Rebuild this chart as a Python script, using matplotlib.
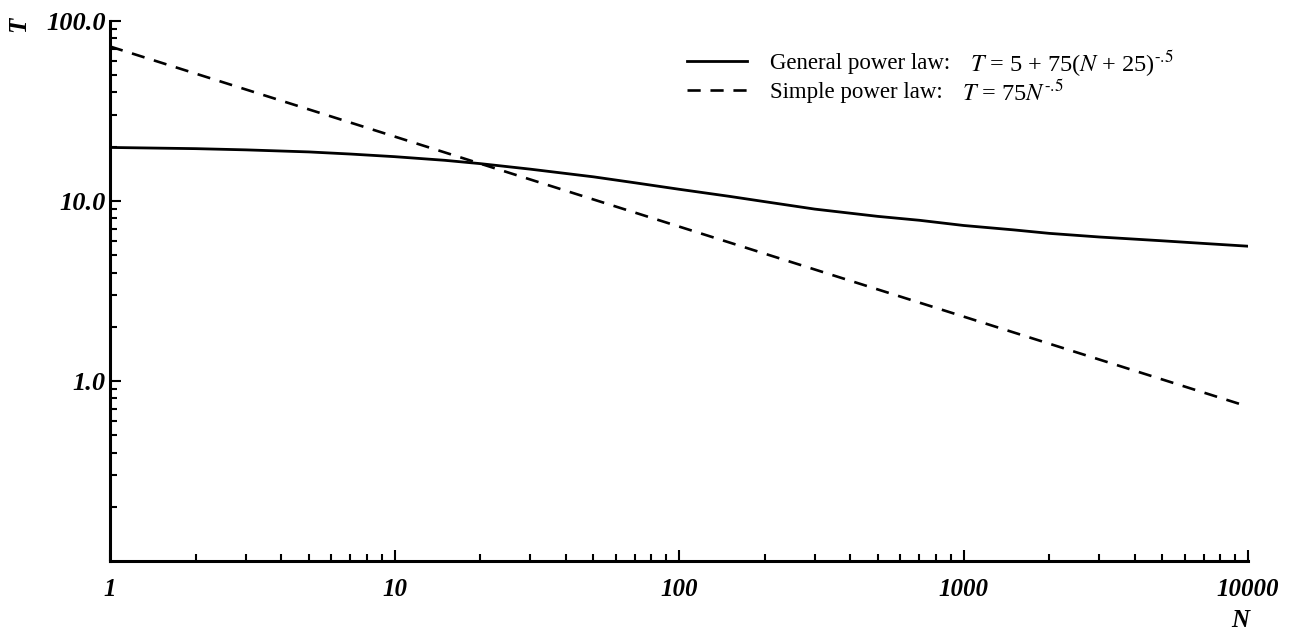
import matplotlib
matplotlib.use("Agg")
import matplotlib.pyplot as plt
from matplotlib.ticker import LogLocator, NullFormatter, FixedLocator

# values
n_general = [1, 2, 3, 5, 7, 10, 15, 20, 30, 50, 70, 100, 150, 200, 300, 500,
             700, 1000, 1500, 2000, 3000, 5000, 7000, 10000]
t_general = [19.8, 19.5, 19.2, 18.7, 18.2, 17.6, 16.8, 16.1, 15.0, 13.6, 12.6,
             11.6, 10.6, 9.9, 9.0, 8.2, 7.8, 7.3, 6.9, 6.6, 6.3, 6.0, 5.8, 5.6]
n_simple = [1, 10000]
t_simple = [72.0, 0.72]

x_ticks = [1, 10, 100, 1000, 10000]
x_labels = ["1", "10", "100", "1000", "10000"]
y_ticks = [1, 10, 100]
y_labels = ["1.0", "10.0", "100.0"]

labels = ["General power law:", "Simple power law:"]
formulas = [r"$T$ = 5 + 75($N$ + 25)$^{\text{-.5}}$",
            r"$T$ = 75$N^{\text{-.5}}$"]

plt.rcParams["font.family"] = ["Liberation Serif", "DejaVu Serif"]
plt.rcParams["mathtext.fontset"] = "stix"

fig = plt.figure(figsize=(13.04, 6.31), dpi=100)
ax = fig.add_axes([0.0844, 0.111, 0.8727, 0.856])

ax.plot(n_general, t_general, color="black", lw=2.0, label=labels[0])
ax.plot(n_simple, t_simple, color="black", lw=1.9, ls=(0, (5, 3.7)), label=labels[1])

ax.set_xscale("log")
ax.set_yscale("log")
ax.set_xlim(1, 10000)
ax.set_ylim(0.1, 100)

for s in ["top", "right"]:
    ax.spines[s].set_visible(False)
for s in ["left", "bottom"]:
    ax.spines[s].set_linewidth(2.2)

ax.xaxis.set_major_locator(FixedLocator(x_ticks))
ax.set_xticklabels(x_labels)
ax.yaxis.set_major_locator(FixedLocator(y_ticks))
ax.set_yticklabels(y_labels)
ax.xaxis.set_minor_locator(LogLocator(base=10, subs=range(2, 10)))
ax.yaxis.set_minor_locator(LogLocator(base=10, subs=range(2, 10)))
ax.xaxis.set_minor_formatter(NullFormatter())
ax.yaxis.set_minor_formatter(NullFormatter())

ax.tick_params(which="both", direction="in", width=1.5)
ax.tick_params(which="major", length=8)
ax.tick_params(which="minor", length=5)
ax.tick_params(axis="x", which="major", pad=12)
ax.tick_params(axis="y", which="major", pad=3)
for lab in ax.get_xticklabels():
    lab.set_fontsize(18)
for lab in ax.get_yticklabels():
    lab.set_fontsize(19)
for lab in ax.get_xticklabels() + ax.get_yticklabels():
    lab.set_fontweight("bold")
    lab.set_fontstyle("italic")

fig.text(0.014, 0.962, "T", fontsize=18, fontweight="bold", fontstyle="italic",
         rotation=90, ha="center", va="center")
fig.text(0.951, 0.016, "N", fontsize=18, fontweight="bold", fontstyle="italic",
         ha="center", va="center")

leg = ax.legend(loc="upper left", bbox_to_anchor=(0.489, 0.978), frameon=False,
                fontsize=16.5, handlelength=2.6, handletextpad=1.0, labelspacing=0.35)

# formulas placed just after each legend entry
fig.canvas.draw()
W, H = fig.get_size_inches() * fig.dpi
for t, f in zip(leg.get_texts(), formulas):
    bb = t.get_window_extent()
    fig.text((bb.x1 + 20) / W, (bb.y0 + bb.y1) / 2 / H, f, fontsize=17.5,
             ha="left", va="center")

fig.savefig("out.png", dpi=100)
